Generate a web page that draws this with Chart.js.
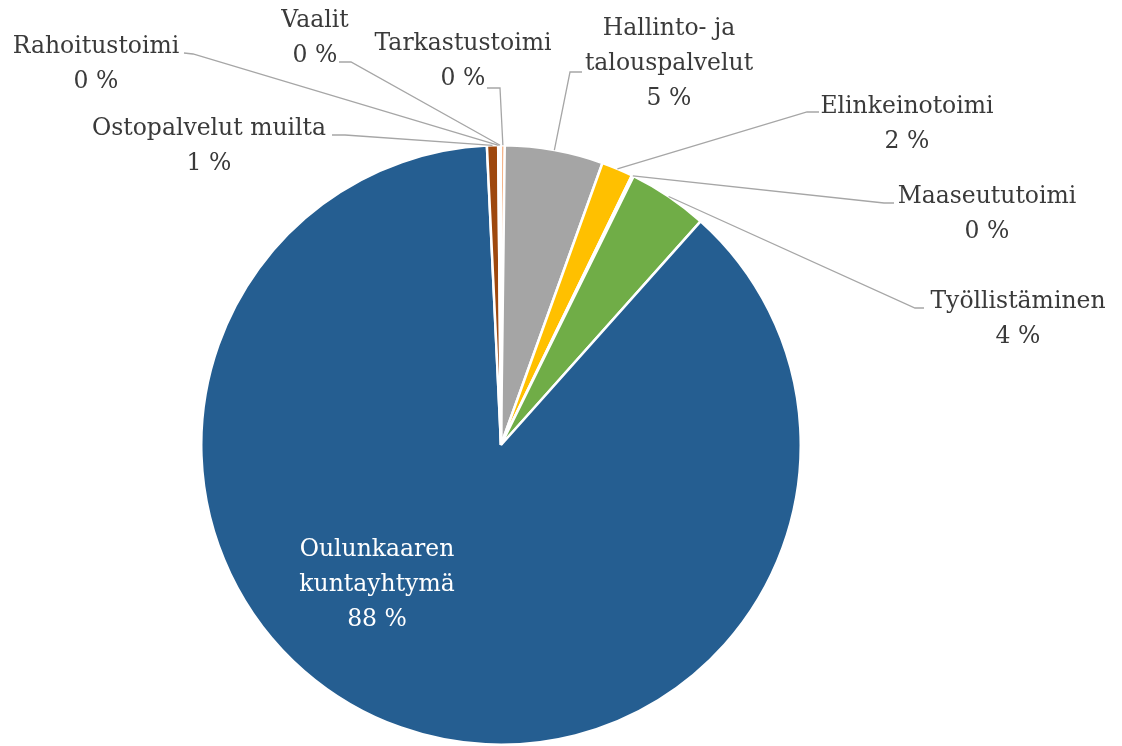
<!DOCTYPE html>
<html><head><meta charset="utf-8">
<script src="https://cdn.jsdelivr.net/npm/chart.js@4/dist/chart.umd.min.js"></script>
<style>html,body{margin:0;padding:0;background:#fff}#wrap{width:1122px;height:746px;position:relative}</style>
</head><body><div id="wrap"><canvas id="c"></canvas></div>
<script>
// Data
const categories = ['Tarkastustoimi','Hallinto- ja talouspalvelut','Elinkeinotoimi','Maaseututoimi','Työllistäminen','Oulunkaaren kuntayhtymä','Ostopalvelut muilta','Rahoitustoimi','Vaalit'];
const labelLines = [['Tarkastustoimi'],['Hallinto- ja','talouspalvelut'],['Elinkeinotoimi'],['Maaseututoimi'],['Työllistäminen'],['Oulunkaaren','kuntayhtymä'],['Ostopalvelut muilta'],['Rahoitustoimi'],['Vaalit']];
const shares = [0.2, 5.3, 1.7, 0.1, 4.3, 87.7, 0.6, 0.05, 0.1];
const colors = ['#ED7D31','#A5A5A5','#FFC000','#5B9BD5','#70AD47','#255E91','#9E480E','#636363','#997300'];

// Label layout (text centre x, first baseline y, leader attach point and elbow)
const labelLayout = [
  {x:463,  y:50,  attach:[487,88],  elbow:[500,88]},
  {x:669,  y:35,  attach:[582,72],  elbow:[570,72]},
  {x:907,  y:113, attach:[819,112], elbow:[807,112]},
  {x:987,  y:203, attach:[894,203], elbow:[884,203]},
  {x:1018, y:308, attach:[924,308], elbow:[915,308]},
  {x:377,  y:556, inside:true},
  {x:209,  y:135, attach:[332,135], elbow:[345,135]},
  {x:96,   y:53,  attach:[184,53],  elbow:[193,54]},
  {x:315,  y:27,  attach:[339,62],  elbow:[351,62]}
];
const FONT = '23.5px "DejaVu Serif"';
const LINE_H = 35;

const labelPlugin = {
  id: 'pieLabels',
  afterDatasetsDraw(chart) {
    const ctx = chart.ctx;
    const meta = chart.getDatasetMeta(0);
    const data = chart.data.datasets[0].data;
    const total = data.reduce((a, b) => a + b, 0);
    ctx.save();
    meta.data.forEach((arc, i) => {
      const L = labelLayout[i];
      const p = arc.getProps(['x','y','startAngle','endAngle','outerRadius'], true);
      const mid = (p.startAngle + p.endAngle) / 2;
      const ax = p.x + Math.cos(mid) * p.outerRadius;
      const ay = p.y + Math.sin(mid) * p.outerRadius;
      if (!L.inside) {
        ctx.beginPath();
        ctx.strokeStyle = '#A6A6A6';
        ctx.lineWidth = 1.3;
        ctx.moveTo(L.attach[0], L.attach[1]);
        ctx.lineTo(L.elbow[0], L.elbow[1]);
        ctx.lineTo(ax, ay);
        ctx.stroke();
      }
      const lines = labelLines[i].concat([Math.round(data[i] / total * 100) + ' %']);
      ctx.font = FONT;
      ctx.textAlign = 'center';
      ctx.textBaseline = 'alphabetic';
      ctx.fillStyle = L.inside ? '#FFFFFF' : '#3A3A3A';
      lines.forEach((t, k) => ctx.fillText(t, L.x, L.y + k * LINE_H));
    });
    ctx.restore();
  }
};

new Chart(document.getElementById('c'), {
  type: 'pie',
  data: {
    labels: categories,
    datasets: [{
      data: shares,
      backgroundColor: colors,
      borderColor: '#FFFFFF',
      borderWidth: 2.5
    }]
  },
  options: {
    responsive: true,
    maintainAspectRatio: false,
    animation: false,
    layout: {padding: {top: 144, left: 200, right: 320, bottom: 0}},
    plugins: {legend: {display: false}, tooltip: {enabled: false}}
  },
  plugins: [labelPlugin]
});
</script>
</body></html>
